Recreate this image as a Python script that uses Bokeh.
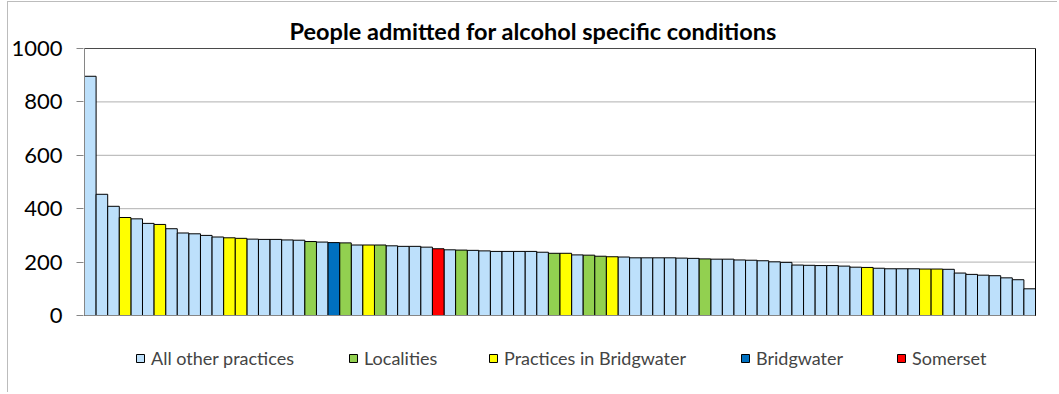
from bokeh.plotting import figure
from bokeh.models import ColumnDataSource, Legend, LegendItem, FixedTicker, Range1d
from bokeh.embed import file_html
from bokeh.resources import INLINE

# ---- data ----
values = [896, 454, 409, 367, 362, 345, 341, 325, 309, 306,
          300, 294, 291, 289, 286, 285, 285, 283, 282, 277,
          275, 273, 272, 264, 264, 264, 261, 259, 259, 256,
          250, 246, 245, 244, 242, 240, 240, 240, 240, 237,
          233, 233, 227, 226, 222, 220, 219, 216, 216, 216,
          216, 215, 214, 212, 211, 211, 208, 207, 205, 201,
          199, 189, 188, 187, 187, 185, 181, 180, 177, 175,
          175, 175, 174, 174, 173, 159, 154, 151, 149, 141,
          134, 100]
groups = ["A", "A", "A", "P", "A", "A", "P", "A", "A", "A",
          "A", "A", "P", "P", "A", "A", "A", "A", "A", "L",
          "A", "B", "L", "A", "P", "L", "A", "A", "A", "A",
          "S", "A", "L", "A", "A", "A", "A", "A", "A", "A",
          "L", "P", "A", "L", "L", "P", "A", "A", "A", "A",
          "A", "A", "A", "L", "A", "A", "A", "A", "A", "A",
          "A", "A", "A", "A", "A", "A", "A", "P", "A", "A",
          "A", "A", "P", "P", "A", "A", "A", "A", "A", "A",
          "A", "A"]
group_codes = ["A", "L", "P", "B", "S"]
group_names = ["All other practices", "Localities", "Practices in Bridgwater",
               "Bridgwater", "Somerset"]
group_colors = ["#BDE0FB", "#92D050", "#FFFF00", "#0070C0", "#FF0000"]
y_ticks = [0, 200, 400, 600, 800, 1000]
y_max = 1000
title_text = "People admitted for alcohol specific conditions"

FONT = "Lato"
n = len(values)

# ---- layout (pixels) ----
W, H = 1050, 391
frame_left, frame_right = 75, 1028      # within the figure
frame_top, frame_bottom = 45, 383
plot_px = 267                            # pixels from 0 to y_max
top_pad_px = 1
legend_x = [52, 265, 405, 657, 813]      # marker offsets from frame left
legend_y = 16                            # legend bottom above frame bottom

frame_w = frame_right - frame_left
frame_h = frame_bottom - frame_top
xu = n / (frame_w - 2)                   # data units per pixel along x
yu = y_max / plot_px
x_range = Range1d(0.5 - xu, n + 0.5 + xu)
y_end = y_max + top_pad_px * yu
y_range = Range1d(y_end - frame_h * yu, y_end)

p = figure(width=W, height=H, x_range=x_range, y_range=y_range,
           output_backend="svg", toolbar_location=None,
           min_border_left=frame_left, min_border_right=W - frame_right,
           min_border_top=frame_top, min_border_bottom=H - frame_bottom)
p.styles = {"margin-left": "7px", "margin-top": "1px",
            "border-left": "1px solid #bcbcbc", "border-top": "1px solid #bcbcbc"}

# grid lines only inside the plot area
p.xgrid.visible = False
p.ygrid.visible = False
p.segment(x0=0.5, x1=n + 0.5, y0=y_ticks[1:-1], y1=y_ticks[1:-1],
          line_color="#b0b0b0", line_width=1)

renderers = []
for code, color in zip(group_codes, group_colors):
    xs = [i + 1 for i, g in enumerate(groups) if g == code]
    tops = [values[i] for i, g in enumerate(groups) if g == code]
    src = ColumnDataSource(dict(x=xs, top=tops))
    r = p.vbar(x="x", top="top", bottom=0, width=1.0, source=src,
               fill_color=color, line_color="black", line_width=1)
    renderers.append(r)

# plot-area border
p.segment(x0=[0.5], x1=[0.5], y0=[0], y1=[y_max], line_color="#868686", line_width=1)
p.segment(x0=[0.5], x1=[n + 0.5], y0=[0], y1=[0], line_color="#868686", line_width=1)
p.segment(x0=[0.5], x1=[n + 0.5], y0=[y_max], y1=[y_max], line_color="#4a4a4a", line_width=1)
p.segment(x0=[n + 0.5], x1=[n + 0.5], y0=[0], y1=[y_max], line_color="black", line_width=1)

p.title.text = title_text
p.title.text_font = FONT
p.title.text_font_size = "23.5px"
p.title.text_font_style = "bold"
p.title.text_color = "black"
p.title.align = "left"
p.title.offset = 206
p.title.standoff = 6

p.xaxis.visible = False

ya = p.yaxis[0]
ya.ticker = FixedTicker(ticks=y_ticks)
ya.major_label_text_font = FONT
ya.major_label_text_font_size = "22px"
ya.major_label_text_color = "black"
ya.axis_line_color = None
ya.major_tick_line_color = "#868686"
ya.major_tick_out = 7
ya.major_tick_in = 0
ya.minor_tick_line_color = None
ya.major_label_standoff = 14

p.outline_line_color = None
p.background_fill_color = "white"
p.border_fill_color = "white"

for name, r, lx in zip(group_names, renderers, legend_x):
    lg = Legend(items=[LegendItem(label=name, renderers=[r])],
                location=(lx, legend_y), orientation="horizontal",
                glyph_width=10, glyph_height=10, label_standoff=6,
                label_text_font=FONT, label_text_font_size="18px",
                label_height=10, padding=0, margin=0, spacing=0,
                background_fill_alpha=0, border_line_alpha=0)
    p.add_layout(lg, "center")

open("out.html", "w").write(file_html(p, INLINE))
